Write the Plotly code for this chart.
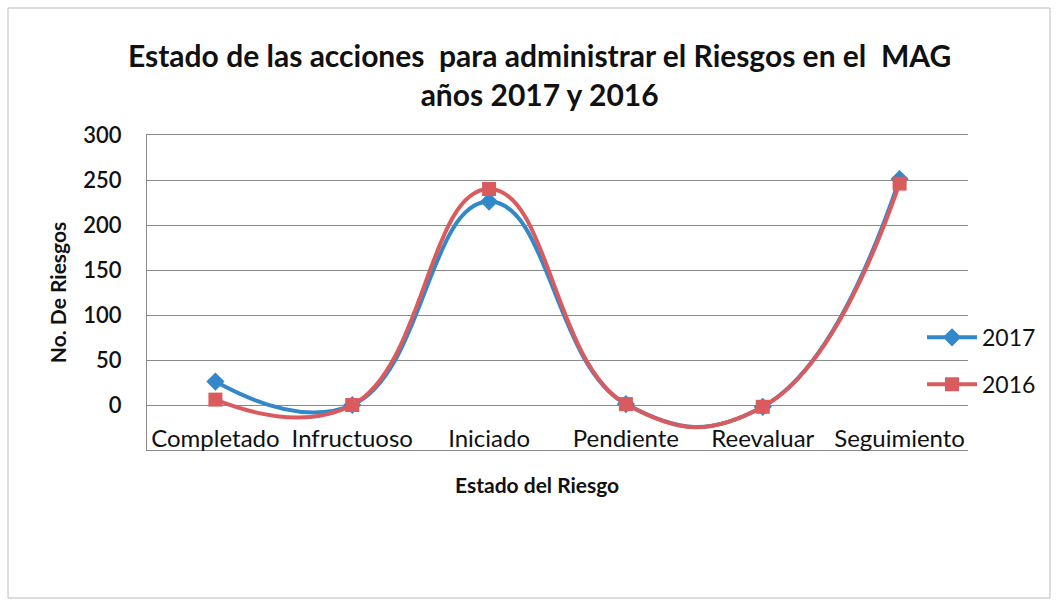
import plotly.graph_objects as go

categories = ["Completado", "Infructuoso", "Iniciado", "Pendiente", "Reevaluar", "Seguimiento"]
values_2017 = [26, 0, 226, 1, -2, 251]
values_2016 = [6, 0, 240, 1, -2, 246]
y_ticks = [-50, 0, 50, 100, 150, 200, 250, 300]

FONT = "Lato, 'Open Sans', sans-serif"
BLUE = "#3388C9"
RED = "#D95B5E"
TXT = "#111111"

fig = go.Figure()
fig.add_trace(go.Scatter(
    x=categories, y=values_2017, name="2017", mode="lines+markers",
    line=dict(color=BLUE, width=4, shape="spline", smoothing=1.3),
    marker=dict(symbol="diamond", size=14, color=BLUE),
    legendgroup="a",
))
fig.add_trace(go.Scatter(
    x=categories, y=values_2016, name="2016", mode="lines+markers",
    line=dict(color=RED, width=4, shape="spline", smoothing=1.3),
    marker=dict(symbol="square", size=14, color=RED),
    legendgroup="b",
))

fig.update_layout(
    width=1056, height=603,
    margin=dict(l=147, r=88, t=135, b=153, autoexpand=False),
    paper_bgcolor="white", plot_bgcolor="white",
    font=dict(family=FONT, color=TXT),
    title=dict(
        text="<b>Estado de las acciones  para administrar el Riesgos en el  MAG<br>años 2017 y 2016</b>",
        x=0.511, xanchor="center", y=0.889, yanchor="middle",
        font=dict(size=30, family=FONT, color=TXT),
    ),
    legend=dict(
        x=0.944, xanchor="left", y=0.283, yanchor="middle",
        font=dict(size=23, family=FONT, color=TXT),
        bgcolor="rgba(0,0,0,0)", traceorder="grouped", tracegroupgap=14,
        itemwidth=50,
    ),
    showlegend=True,
    shapes=[dict(type="rect", xref="paper", yref="paper",
                 x0=-139/821, x1=1.0 + 82/821, y0=-148/315, y1=1.0 + 127/315,
                 line=dict(color="#BBBBBB", width=1))],
    annotations=[dict(
        text="<b>Estado del Riesgo</b>", xref="paper", yref="paper",
        x=(537 - 147) / 821, y=-(484 - 450) / 315, xanchor="center", yanchor="middle",
        showarrow=False, font=dict(size=21, family=FONT, color=TXT),
    )],
)

fig.update_xaxes(
    type="category", categoryorder="array", categoryarray=categories,
    range=[-0.5, 5.5],
    showgrid=False, showline=True, mirror=True, linecolor="#8A8A8A", linewidth=1,
    zeroline=False, ticks="",
    ticklabelposition="inside",
    tickfont=dict(size=24, family=FONT, color=TXT),
)
fig.update_yaxes(
    range=[-50, 300], tickvals=y_ticks, ticktext=[str(v) for v in y_ticks],
    showgrid=True, gridcolor="#8A8A8A", gridwidth=1,
    showline=True, linecolor="#8A8A8A", linewidth=1,
    zeroline=False, ticks="", ticklabelstandoff=20,
    tickfont=dict(size=22, family=FONT, color=TXT, weight=600),
    title=dict(text="<b>No. De Riesgos</b>", font=dict(size=21, family=FONT, color=TXT), standoff=10),
)

fig.write_html("out.html")
